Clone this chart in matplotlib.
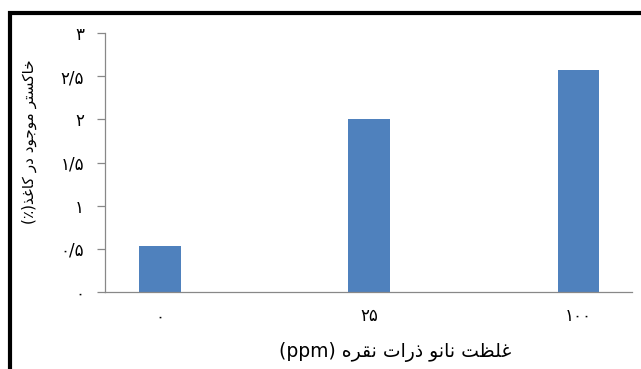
import matplotlib
matplotlib.use("Agg")
import matplotlib.pyplot as plt
from matplotlib.patches import Rectangle

# concentration of silver nanoparticles and ash content (%)
categories = ["۰", "۲۵", "۱۰۰"]
ash_values = [0.53, 2.0, 2.57]
y_ticks = [0, 0.5, 1, 1.5, 2, 2.5, 3]
y_tick_labels = ["۰", "۰/۵", "۱", "۱/۵", "۲", "۲/۵", "۳"]
x_title = "غلظت نانو ذرات نقره"
y_title = "خاکستر موجود در کاغذ"

# contextual forms: isolated, final, initial, medial
FORMS = {
    "ا": ("\uFE8D", "\uFE8E"),
    "ت": ("\uFE95", "\uFE96", "\uFE97", "\uFE98"),
    "ج": ("\uFE9D", "\uFE9E", "\uFE9F", "\uFEA0"),
    "خ": ("\uFEA5", "\uFEA6", "\uFEA7", "\uFEA8"),
    "د": ("\uFEA9", "\uFEAA"),
    "ذ": ("\uFEAB", "\uFEAC"),
    "ر": ("\uFEAD", "\uFEAE"),
    "س": ("\uFEB1", "\uFEB2", "\uFEB3", "\uFEB4"),
    "ظ": ("\uFEC5", "\uFEC6", "\uFEC7", "\uFEC8"),
    "غ": ("\uFECD", "\uFECE", "\uFECF", "\uFED0"),
    "ق": ("\uFED5", "\uFED6", "\uFED7", "\uFED8"),
    "ل": ("\uFEDD", "\uFEDE", "\uFEDF", "\uFEE0"),
    "م": ("\uFEE1", "\uFEE2", "\uFEE3", "\uFEE4"),
    "ن": ("\uFEE5", "\uFEE6", "\uFEE7", "\uFEE8"),
    "ه": ("\uFEE9", "\uFEEA", "\uFEEB", "\uFEEC"),
    "و": ("\uFEED", "\uFEEE"),
    "ک": ("\uFB8E", "\uFB8F", "\uFB90", "\uFB91"),
}


def shape_word(word):
    out = []
    for i, ch in enumerate(word):
        forms = FORMS[ch]
        prev_joins = i > 0 and len(FORMS[word[i - 1]]) == 4
        next_joins = len(forms) == 4 and i < len(word) - 1
        if prev_joins and next_joins:
            out.append(forms[3])
        elif prev_joins:
            out.append(forms[1])
        elif next_joins:
            out.append(forms[2])
        else:
            out.append(forms[0])
    return "".join(reversed(out))


def fa(text):
    # visual (left-to-right) order for rtl text
    return " ".join(shape_word(w) for w in reversed(text.split()))


plt.rcParams["font.family"] = ["DejaVu Sans"]

fig = plt.figure(figsize=(6.41, 3.69), dpi=100)
ax = fig.add_axes([105 / 641, 1 - 292 / 369, 527 / 641, 259 / 369])

x = range(len(categories))
ax.bar(x, ash_values, width=0.2, color="#4F81BD")

ax.set_ylim(0, 3)
ax.set_xlim(-0.263, 2.256)
ax.set_yticks(y_ticks)
ax.set_yticklabels(y_tick_labels, fontsize=12)
ax.set_xticks(list(x))
ax.set_xticklabels(categories, fontsize=12)

for side in ["top", "right"]:
    ax.spines[side].set_visible(False)
for side in ["left", "bottom"]:
    ax.spines[side].set_color("#888888")
    ax.spines[side].set_linewidth(0.9)
ax.tick_params(axis="y", length=6, width=0.9, color="#888888", pad=9)
ax.tick_params(axis="x", length=0, pad=11)

fig.text(395 / 641, 1 - 352 / 369, "(ppm) " + fa(x_title),
         ha="center", va="center", fontsize=13.5)
fig.text(29 / 641, 1 - 142 / 369, "(٪)" + fa(y_title),
         ha="center", va="center", rotation=90, fontsize=11)

# black frame along the top and left edge
fig.add_artist(Rectangle((10 / 641, -0.1), 1.2, 1.1 - 13 / 369,
                         transform=fig.transFigure, fill=False,
                         edgecolor="black", linewidth=3))

fig.savefig("out.png", dpi=100, facecolor="white")
